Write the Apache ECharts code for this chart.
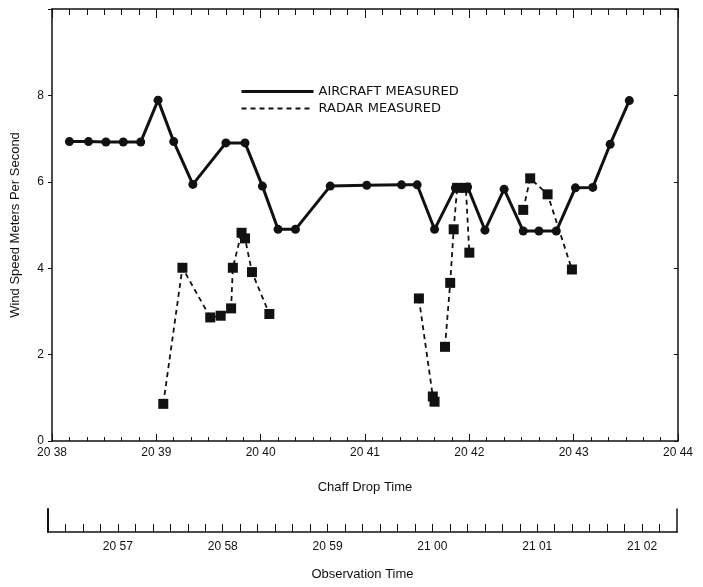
<!DOCTYPE html>
<html>
<head>
<meta charset="utf-8">
<script src="https://cdn.jsdelivr.net/npm/echarts@6/dist/echarts.min.js"></script>
<style>
  html, body { margin: 0; padding: 0; background: #fff; }
  #chart { width: 703px; height: 587px; }
</style>
</head>
<body>
<div id="chart"></div>
<script>
// times are seconds after 20:38:00 (chaff drop time)
var aircraftTime = [10, 21, 31, 41, 51, 61, 70, 81, 100, 111, 121, 130, 140, 160, 181, 201, 210, 220, 232, 236, 239, 249, 260, 271, 280, 290, 301, 311, 321, 332];
var aircraftSpeed = [6.93, 6.93, 6.92, 6.92, 6.92, 7.89, 6.93, 5.94, 6.9, 6.9, 5.9, 4.9, 4.9, 5.9, 5.92, 5.93, 5.93, 4.9, 5.86, 5.86, 5.88, 4.88, 5.83, 4.86, 4.86, 4.86, 5.86, 5.87, 6.87, 7.88];

// null = break in the dashed line
var radarTime = [64, 75, 91, 97, 103, 104, 109, 111, 115, 125, 170, 211, 219, 220, 223, 226, 229, 231, 233, 238, 240, 255, 271, 275, 285, 299];
var radarSpeed = [0.86, 4.01, 2.86, 2.9, 3.07, 4.01, 4.82, 4.69, 3.91, 2.94, null, 3.3, 1.03, 0.91, null, 2.18, 3.66, 4.9, 5.86, 5.86, 4.36, null, 5.35, 6.08, 5.71, 3.97];

// tick labels
var chaffLabels = ['20 38', '20 39', '20 40', '20 41', '20 42', '20 43', '20 44'];
// observation axis: seconds after 20:56:00
var obsLabels = ['20 57', '20 58', '20 59', '21 00', '21 01', '21 02'];

var aircraftData = aircraftTime.map(function (t, i) { return [t, aircraftSpeed[i]] })
var radarData = radarTime.map(function (t, i) {
  return [t, radarSpeed[i] === null ? '-' : radarSpeed[i]]
})

var ink = '#111'
var font = 'Liberation Sans'

var myChart = echarts.init(document.getElementById('chart'))
var option = {
  animation: false,
  backgroundColor: '#fff',
  textStyle: { fontFamily: font, color: ink },
  grid: [
    { left: 52, right: 25, top: 9, bottom: 146 },
    { left: 48, right: 26, top: 509, height: 23 }
  ],
  legend: {
    orient: 'vertical',
    left: 235,
    top: 80,
    itemWidth: 72,
    itemHeight: 14,
    itemGap: 4,
    itemStyle: { opacity: 0 },
    textStyle: { fontFamily: 'DejaVu Sans', fontSize: 13, color: ink },
    data: [
      { name: 'AIRCRAFT MEASURED', lineStyle: { width: 3, color: ink } },
      { name: 'RADAR MEASURED', lineStyle: { width: 2, color: ink, type: [5, 4] } }
    ]
  },
  xAxis: [
    {
      type: 'value', gridIndex: 0, position: 'bottom',
      min: 0, max: 360, interval: 60,
      name: 'Chaff Drop Time', nameLocation: 'middle', nameGap: 40,
      nameTextStyle: { fontSize: 13, color: ink, fontFamily: font },
      axisLine: { onZero: false, lineStyle: { color: ink, width: 1.5 } },
      axisTick: { inside: true, length: 7, lineStyle: { color: ink } },
      minorTick: { show: true, splitNumber: 6, length: 4, lineStyle: { color: ink } },
      splitLine: { show: false },
      axisLabel: {
        margin: 6, fontSize: 12, color: ink,
        formatter: function (v) { return chaffLabels[Math.round(v / 60)] }
      }
    },
    {
      type: 'value', gridIndex: 0, position: 'top',
      min: 0, max: 360, interval: 60,
      axisLine: { onZero: false, lineStyle: { color: ink, width: 1.5 } },
      axisTick: { inside: true, length: 9, lineStyle: { color: ink } },
      minorTick: { show: true, splitNumber: 6, length: 6, lineStyle: { color: ink } },
      splitLine: { show: false },
      axisLabel: { show: false }
    },
    {
      type: 'value', gridIndex: 1, position: 'bottom',
      min: 20, max: 380, interval: 10,
      name: 'Observation Time', nameLocation: 'middle', nameGap: 36,
      nameTextStyle: { fontSize: 13, color: ink, fontFamily: font },
      axisLine: { onZero: false, lineStyle: { color: ink, width: 1.5 } },
      axisTick: { inside: true, length: 8, lineStyle: { color: ink } },
      splitLine: { show: false },
      axisLabel: {
        margin: 9, fontSize: 12, color: ink,
        showMinLabel: false, showMaxLabel: false,
        formatter: function (v) {
          if (v % 60 !== 0) return ''
          return obsLabels[v / 60 - 1] || ''
        }
      }
    }
  ],
  yAxis: [
    {
      type: 'value', gridIndex: 0, position: 'left',
      min: 0, max: 10, interval: 2,
      name: 'Wind Speed Meters Per Second', nameLocation: 'middle', nameGap: 30,
      nameTextStyle: { fontSize: 13, color: ink, fontFamily: font },
      axisLine: { show: true, onZero: false, lineStyle: { color: ink, width: 1.5 } },
      axisTick: { show: true, length: 4, lineStyle: { color: ink } },
      splitLine: { show: false },
      axisLabel: {
        margin: 8, fontSize: 12, color: ink,
        formatter: function (v) { return v === 10 ? '' : v }
      }
    },
    {
      type: 'value', gridIndex: 0, position: 'right',
      min: 0, max: 10, interval: 2,
      axisLine: { show: true, onZero: false, lineStyle: { color: ink, width: 1.5 } },
      axisTick: { show: true, inside: true, length: 4, lineStyle: { color: ink } },
      splitLine: { show: false },
      axisLabel: { show: false }
    },
    {
      type: 'value', gridIndex: 1, position: 'left',
      min: 0, max: 1,
      axisLine: { show: true, onZero: false, lineStyle: { color: ink, width: 2 } },
      axisTick: { show: false }, splitLine: { show: false }, axisLabel: { show: false }
    },
    {
      type: 'value', gridIndex: 1, position: 'right',
      min: 0, max: 1,
      axisLine: { show: true, onZero: false, lineStyle: { color: ink, width: 1.5 } },
      axisTick: { show: false }, splitLine: { show: false }, axisLabel: { show: false }
    }
  ],
  series: [
    {
      name: 'AIRCRAFT MEASURED',
      type: 'line',
      xAxisIndex: 0, yAxisIndex: 0,
      data: aircraftData,
      symbol: 'circle',
      symbolSize: 9,
      itemStyle: { color: ink },
      lineStyle: { color: ink, width: 3, type: 'solid' }
    },
    {
      name: 'RADAR MEASURED',
      type: 'line',
      xAxisIndex: 0, yAxisIndex: 0,
      data: radarData,
      connectNulls: false,
      symbol: 'rect',
      symbolSize: 10,
      itemStyle: { color: ink },
      lineStyle: { color: ink, width: 1.8, type: [5, 4] },
      z: 1
    }
  ]
}
myChart.setOption(option)
</script>
</body>
</html>
